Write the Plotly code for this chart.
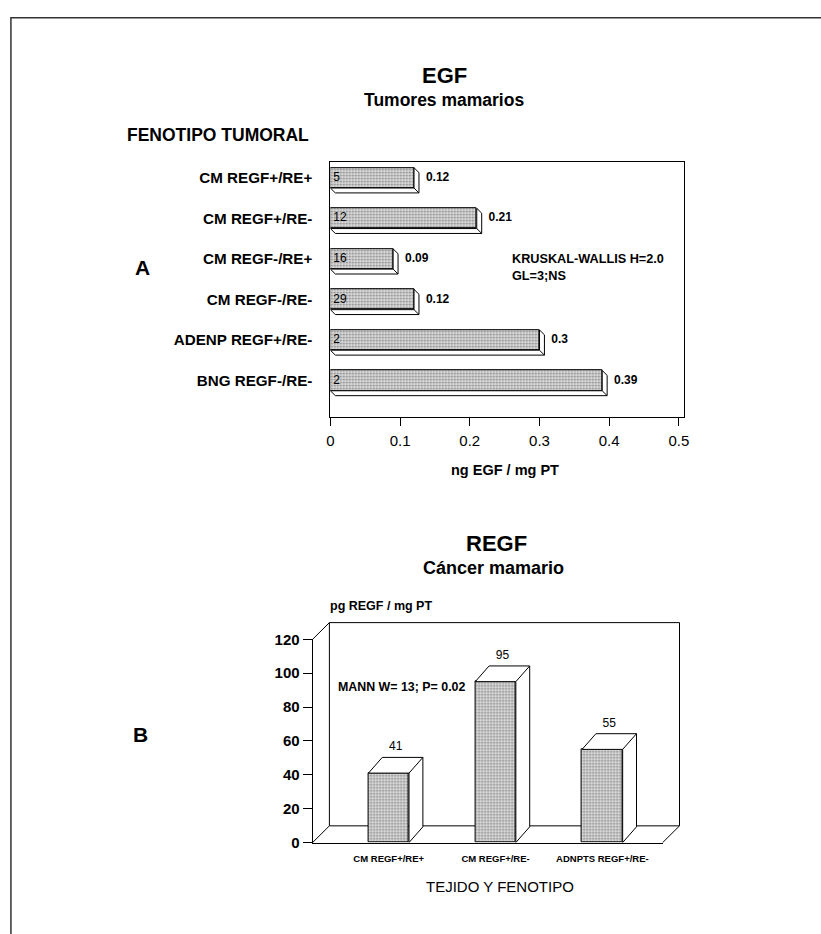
import plotly.graph_objects as go

W, H = 821, 934
FONT = "Liberation Sans, Arial, Helvetica, sans-serif"

# ---------------- data ----------------
# Panel A: EGF in breast tumours
cat_a = ["CM REGF+/RE+", "CM REGF+/RE-", "CM REGF-/RE+", "CM REGF-/RE-",
         "ADENP REGF+/RE-", "BNG REGF-/RE-"]
egf = [0.12, 0.21, 0.09, 0.12, 0.30, 0.39]
egf_labels = ["0.12", "0.21", "0.09", "0.12", "0.3", "0.39"]
n_a = ["5", "12", "16", "29", "2", "2"]
xticks_a = [0, 0.1, 0.2, 0.3, 0.4, 0.5]
xticktext_a = ["0", "0.1", "0.2", "0.3", "0.4", "0.5"]

# Panel B: REGF in breast cancer
cat_b = ["CM REGF+/RE+", "CM REGF+/RE-", "ADNPTS REGF+/RE-"]
regf = [41, 95, 55]
regf_labels = ["41", "95", "55"]
yticks_b = [0, 20, 40, 60, 80, 100, 120]

# ---------------- layout geometry (pixels) ----------------
def px(x):
    return x / W

def py(y):
    return 1 - y / H

# panel A
A_L, A_R, A_T, A_B = 330, 688, 156, 416
A_XMAX = 0.508
A_FIRST, A_PITCH = 172, 41.3
A_BARW = 0.5
A_DEPTH = 5
nA = len(cat_a)
pos_a = [nA - 1 - i for i in range(nA)]
ya_range = [-(A_B - (A_FIRST + (nA - 1) * A_PITCH)) / A_PITCH,
            (nA - 1) + (A_FIRST - A_T) / A_PITCH]
a_xpu = (A_R - A_L) / A_XMAX          # px per x unit
a_ypu = A_PITCH                         # px per y unit
a_dx = A_DEPTH / a_xpu
a_dy = A_DEPTH / a_ypu

# panel B
B_L, B_R, B_B, B_T = 312, 666, 849, 642
B_YMAX = 120
B_C0, B_PITCH = 389, 108
B_BARW = 0.38
B_WALL_DX, B_WALL_DY = 17, 17
B_BAR_DX, B_BAR_DY = 14, 16
xb_range = [(B_L - B_C0) / B_PITCH, (B_R - B_C0) / B_PITCH]
b_ypu = (B_B - B_T) / B_YMAX
pos_b = list(range(len(cat_b)))
b_dx = B_BAR_DX / B_PITCH
b_dy = B_BAR_DY / b_ypu

pattern = dict(shape=".", fgcolor="#222222", bgcolor="#dedede", size=3, solidity=0.35)

fig = go.Figure()

# ---- Panel A: extrusions (3D sides) ----
ex, ey = [], []
for v, yc in zip(egf, pos_a):
    top, bot = yc + A_BARW / 2, yc - A_BARW / 2
    ex += [v, v + a_dx, v + a_dx, a_dx, 0, v, v, None, v, v + a_dx, None]
    ey += [top, top - a_dy, bot - a_dy, bot - a_dy, bot, bot, top, None, bot, bot - a_dy, None]
fig.add_trace(go.Scatter(x=ex, y=ey, mode="lines", fill="toself", fillcolor="white",
                         line=dict(color="black", width=1), hoverinfo="skip",
                         showlegend=False, xaxis="x", yaxis="y"))
fig.add_trace(go.Bar(x=egf, y=pos_a, orientation="h", width=A_BARW,
                     marker=dict(color="#dedede", pattern=pattern,
                                 line=dict(color="black", width=1)),
                     showlegend=False, xaxis="x", yaxis="y"))
fig.add_trace(go.Scatter(x=[3 / a_xpu] * nA, y=pos_a, mode="text", text=n_a,
                         textposition="middle right",
                         textfont=dict(family=FONT, size=12, color="black"),
                         showlegend=False, xaxis="x", yaxis="y", cliponaxis=False))
fig.add_trace(go.Scatter(x=[v + a_dx + 7 / a_xpu for v in egf], y=pos_a, mode="text",
                         text=egf_labels, textposition="middle right",
                         textfont=dict(family=FONT, size=12, color="black", weight="bold"),
                         showlegend=False, xaxis="x", yaxis="y", cliponaxis=False))

# ---- Panel B: extrusions ----
bx, by = [], []
for xc, v in zip(pos_b, regf):
    l, r = xc - B_BARW / 2, xc + B_BARW / 2
    bx += [l, l + b_dx, r + b_dx, r + b_dx, r, r, l, None, r, r + b_dx, None]
    by += [v, v + b_dy, v + b_dy, b_dy, 0, v, v, None, v, v + b_dy, None]
fig.add_trace(go.Scatter(x=bx, y=by, mode="lines", fill="toself", fillcolor="white",
                         line=dict(color="black", width=1), hoverinfo="skip",
                         showlegend=False, xaxis="x2", yaxis="y2", cliponaxis=False))
fig.add_trace(go.Bar(x=pos_b, y=regf, width=B_BARW,
                     marker=dict(color="#dedede", pattern=pattern,
                                 line=dict(color="black", width=1)),
                     showlegend=False, xaxis="x2", yaxis="y2"))
fig.add_trace(go.Scatter(x=[xc + b_dx / 2 for xc in pos_b], y=[v + b_dy + 4 / b_ypu for v in regf],
                         mode="text", text=regf_labels, textposition="top center",
                         textfont=dict(family=FONT, size=12, color="black"),
                         showlegend=False, xaxis="x2", yaxis="y2", cliponaxis=False))

# ---- 3D box of panel B (axis furniture) ----
wl, wr = B_L + B_WALL_DX, B_R + B_WALL_DX
wt, wb = B_T - B_WALL_DY, B_B - B_WALL_DY
shapes = []
def seg(x0, y0, x1, y1, w=1):
    shapes.append(dict(type="line", xref="paper", yref="paper",
                       x0=px(x0), y0=py(y0), x1=px(x1), y1=py(y1),
                       line=dict(color="black", width=w), layer="below"))
seg(wl, wt, wr, wt)
seg(wl, wt, wl, wb)
seg(wr, wt, wr, wb)
seg(wl, wb, wr, wb)
seg(B_L, B_T, wl, wt)
seg(B_L, B_B, wl, wb)
seg(B_R, B_B, wr, wb)
# outer page frame
shapes.append(dict(type="rect", xref="paper", yref="paper",
                   x0=px(7), y0=py(960), x1=px(840), y1=py(9),
                   line=dict(color="#333", width=1.5), layer="below"))

def ann(text, x, y, size, bold=True, xanchor="center", align="center"):
    return dict(text=text, x=px(x), y=py(y - 0.08 * size), xref="paper", yref="paper",
                showarrow=False, xanchor=xanchor, yanchor="middle", align=align,
                font=dict(family=FONT, size=size, color="black",
                          weight="bold" if bold else "normal"))

annotations = [
    ann("EGF", 445, 70, 22),
    ann("Tumores mamarios", 445, 94, 17.5),
    ann("FENOTIPO TUMORAL", 122, 130, 17.5, xanchor="left"),
    ann("A", 140, 265, 21),
    ann("KRUSKAL-WALLIS H=2.0<br>GL=3;NS", 512, 264, 12.7, xanchor="left", align="left"),
    ann("ng EGF / mg PT", 507, 471, 14.5),
    ann("REGF", 498, 546, 22),
    ann("Cáncer mamario", 495, 571, 18),
    ann("pg REGF / mg PT", 328, 609, 12.5, xanchor="left"),
    ann("MANN W= 13; P= 0.02", 336, 692, 12.4, xanchor="left"),
    ann("B", 138, 741, 21),
    ann("TEJIDO Y FENOTIPO", 501, 895, 15, bold=False),
]

fig.update_layout(
    width=W, height=H, margin=dict(l=0, r=0, t=0, b=0),
    paper_bgcolor="white", plot_bgcolor="rgba(0,0,0,0)",
    font=dict(family=FONT, color="black"),
    showlegend=False, bargap=0,
    shapes=shapes, annotations=annotations,
    xaxis=dict(domain=[px(A_L), px(A_R)], range=[0, A_XMAX], anchor="y",
               tickvals=xticks_a, ticktext=xticktext_a, showgrid=False, zeroline=False,
               showline=True, linecolor="black", linewidth=1, mirror=True,
               ticks="outside", ticklen=8, tickcolor="black", ticklabelstandoff=2,
               tickfont=dict(family=FONT, size=15)),
    yaxis=dict(domain=[py(A_B), py(A_T)], range=ya_range, anchor="x",
               tickvals=pos_a, ticktext=cat_a, showgrid=False, zeroline=False,
               showline=True, linecolor="black", linewidth=1, mirror=True,
               ticks="", ticklabelstandoff=14,
               tickfont=dict(family=FONT, size=15.2, weight="bold")),
    xaxis2=dict(domain=[px(B_L), px(B_R)], range=xb_range, anchor="y2",
                tickvals=pos_b, ticktext=cat_b, showgrid=False, zeroline=False,
                showline=True, linecolor="black", linewidth=1,
                ticks="", ticklabelstandoff=7,
                tickfont=dict(family=FONT, size=9.5, weight="bold")),
    yaxis2=dict(domain=[py(B_B), py(B_T)], range=[0, B_YMAX], anchor="x2",
                tickvals=yticks_b, showgrid=False, zeroline=False,
                showline=True, linecolor="black", linewidth=1,
                ticks="outside", ticklen=9, tickcolor="black",
                tickfont=dict(family=FONT, size=15, weight="bold")),
)

fig.write_html("out.html", config={"displayModeBar": False},
               post_script="document.body.style.margin='0';document.body.style.overflow='hidden';")
